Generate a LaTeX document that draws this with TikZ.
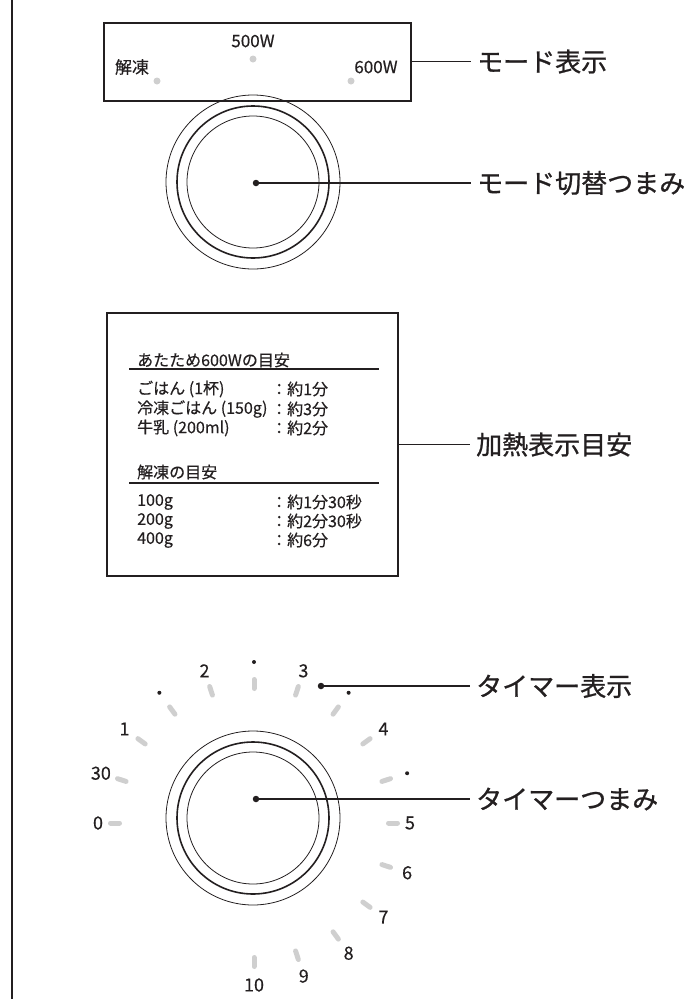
\documentclass[tikz,border=0pt]{standalone}
\usepackage{fontspec}
\setmainfont{Noto Sans CJK JP}
\newfontfamily\calloutfont{Noto Sans CJK JP}[FakeBold=0.9]
\newfontfamily\panelfont{Noto Sans CJK JP}[FakeBold=0.4]
\usetikzlibrary{positioning, calc}
\definecolor{inkdark}{HTML}{231F20}
\definecolor{scalegray}{HTML}{CFCFCF}
\tikzstyle{panel} = [rectangle, draw=inkdark, line width=2pt, inner sep=0pt]
\tikzstyle{callout} = [anchor=west, inner xsep=6pt, inner ysep=0pt, text=inkdark, font=\calloutfont\fontsize{26}{30}\selectfont]
\tikzstyle{leader} = [line width=1.6pt, draw=inkdark]
\tikzstyle{pindot} = [circle, fill=inkdark, inner sep=0pt, minimum size=6.5pt]
\tikzstyle{greydot} = [circle, fill=scalegray, inner sep=0pt, minimum size=7pt]
\tikzstyle{modetext} = [inner sep=0pt, text=inkdark, font=\panelfont\fontsize{17}{20}\selectfont]
\tikzstyle{tabletext} = [anchor=west, inner sep=0pt, text=inkdark, font=\panelfont\fontsize{16}{19}\selectfont]
\tikzstyle{scalenum} = [inner sep=0pt, text=inkdark, font=\panelfont\fontsize{18}{20}\selectfont]
\tikzstyle{scalemark} = [line width=5pt, line cap=round, draw=scalegray]

\begin{document}
\begin{tikzpicture}[x=1pt, y=-1pt]
        \useasboundingbox (0,0) rectangle (690,999);
        \draw[line width=2pt, inkdark] (12,0) -- (12,999);

        % mode display
        \node[panel, minimum width=307pt, minimum height=78pt] (mode) at (257.5,61.5) {};
        \node[modetext] (m500) at (253,41) {500W};
        \node[modetext] (mdef) at (132,67) {解凍};
        \node[modetext] (m600) at (376,67) {600W};
        \node[greydot] at (253,59) {};
        \node[greydot] at (157,81) {};
        \node[greydot] at (351,81) {};
        \node[callout] (modelbl) at (471,61.5) {モード表示};
        \draw[leader] (mode.east) -- (modelbl.west);

        % mode knob
        \coordinate (mknob) at (253,182);
        \foreach \r/\w in {87/0.8pt, 76/1.6pt, 66/0.8pt}
            \draw[inkdark, line width=\w] (mknob) circle[radius=\r pt];
        \node[pindot] (mdot) at (256,183) {};
        \node[callout] (mknoblbl) at (471,183) {モード切替つまみ};
        \draw[leader] (mdot.center) -- (mknoblbl.west);

        % heating guide
        \node[panel, minimum width=291pt, minimum height=263pt] (guide) at (252.5,444.5) {};
        \node[tabletext] (heathead) at (137,360) {あたため600Wの目安};
        \draw[line width=1.6pt, inkdark] (129,369) -- (379,369);
        \foreach \y/\l/\t in {389/ごはん (1杯)/：約1分, 409/冷凍ごはん (150g)/：約3分, 428/牛乳 (200ml)/：約2分} {
            \node[tabletext] (hl\y) at (137,\y) {\l};
            \node[tabletext] (hr\y) at (271,\y) {\t};
        }
        \node[tabletext] (defhead) at (137,472) {解凍の目安};
        \draw[line width=1.6pt, inkdark] (129,483) -- (379,483);
        \foreach \y/\l/\t in {502/100g/：約1分30秒, 521/200g/：約2分30秒, 540/400g/：約6分} {
            \node[tabletext] (dl\y) at (137,\y) {\l};
            \node[tabletext] (dr\y) at (271,\y) {\t};
        }
        \node[callout] (guidelbl) at (470,444.5) {加熱表示目安};
        \draw[leader] (guide.east) -- (guidelbl.west);

        % timer scale
        \coordinate (tscale) at (254,823);
        \foreach \a in {180,162,...,-90}
            \draw[scalemark] ($(tscale)+(\a:134.5pt)$) -- ($(tscale)+(\a:143.5pt)$);
        \foreach \a/\t/\r in {180/0/156, 162/30/161, 144/1/160, 108/2/160, 72/3/160, 36/4/160,
                0/5/156, -18/6/161, -36/7/160, -54/8/161, -72/9/161, -90/10/162}
            \node[scalenum] (num\t) at ($(tscale)+(\a:\r pt)$) {\t};
        \foreach \a in {126,90,54,18}
            \fill[inkdark] ($(tscale)+(\a:161pt)$) circle[radius=2pt];
        \node[pindot] (tdot) at (321,686) {};
        \node[callout] (tscalelbl) at (470,686) {タイマー表示};
        \draw[leader] (tdot.center) -- (tscalelbl.west);

        % timer knob
        \coordinate (tknob) at (253,818);
        \foreach \r/\w in {87/0.8pt, 76/1.6pt, 66/0.8pt}
            \draw[inkdark, line width=\w] (tknob) circle[radius=\r pt];
        \node[pindot] (tkdot) at (256,799) {};
        \node[callout] (tknoblbl) at (470,799) {タイマーつまみ};
        \draw[leader] (tkdot.center) -- (tknoblbl.west);
    \end{tikzpicture}
\end{document}
